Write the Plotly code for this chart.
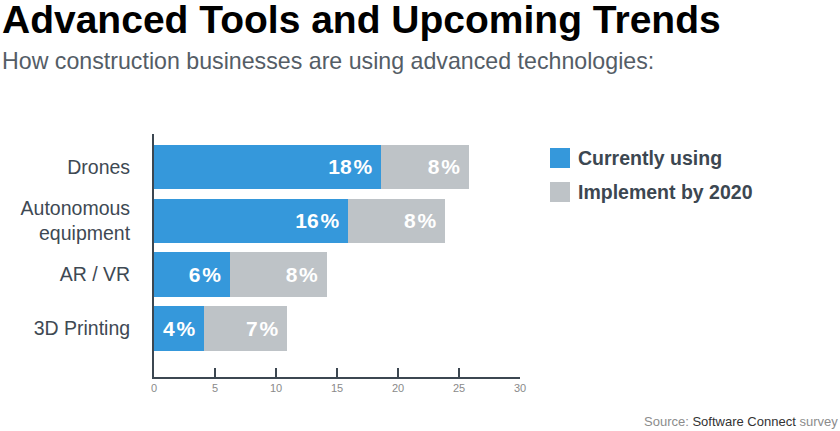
import plotly.graph_objects as go

categories = ["Drones", "Autonomous<br>equipment", "AR / VR", "3D Printing"]
currently_using = [18.6, 15.9, 6.2, 4.1]
implement_2020 = [7.2, 7.95, 7.95, 6.8]
current_labels = ["18%", "16%", "6%", "4%"]
implement_labels = ["8%", "8%", "8%", "7%"]
x_ticks = [0, 5, 10, 15, 20, 25, 30]
series_names = ["Currently using", "Implement by 2020"]

BLUE = "#3598db"
GRAY = "#bec3c7"
DARK = "#3c4751"
FONT = "Liberation Sans, Arial, Helvetica, sans-serif"

def fmt(lbl):
    # hair space between number and %, trailing nbsp for inner padding
    return lbl.replace("%", "\u200a%") + "\u00a0"

fig = go.Figure()
fig.add_trace(go.Bar(
    y=categories, x=currently_using, orientation="h", name=series_names[0],
    marker=dict(color=BLUE, line=dict(width=0)),
    text=[fmt(t) for t in current_labels], textposition="inside",
    insidetextanchor="end", textangle=0,
    textfont=dict(family=FONT, size=21, color="white", weight="bold"),
    hoverinfo="skip",
))
fig.add_trace(go.Bar(
    y=categories, x=implement_2020, orientation="h", name=series_names[1],
    marker=dict(color=GRAY, line=dict(width=0)),
    text=[fmt(t) for t in implement_labels], textposition="inside",
    insidetextanchor="end", textangle=0,
    textfont=dict(family=FONT, size=21, color="white", weight="bold"),
    hoverinfo="skip",
))

L, R, T, B = 154, 320, 134, 54
W, H = 840, 431
pw, ph = W - L - R, H - T - B

def px(x):
    return (x - L) / pw

def py(y):
    return (T + ph - y) / ph

def ann(**kw):
    base = dict(xref="paper", yref="paper", showarrow=False)
    base.update(kw)
    return base

annotations = [
    ann(text="<b>Advanced Tools and Upcoming Trends</b>", x=px(0), y=py(20),
        xanchor="left", yanchor="middle",
        font=dict(family=FONT, size=39, color="#000000")),
    ann(text="How construction businesses are using advanced technologies:",
        x=px(0), y=py(61), xanchor="left", yanchor="middle",
        font=dict(family=FONT, size=23.2, color="#545d66")),
    ann(text="<span style='color:#8c8c8c'>Source:</span> "
             "<span style='color:#333333'>Software Connect</span> "
             "<span style='color:#8c8c8c'>survey</span>",
        x=px(840), y=py(421), xanchor="right", yanchor="middle",
        font=dict(family=FONT, size=13, color="#8c8c8c")),
]
shapes = []
legend_rows = [(158, BLUE, series_names[0]), (192, GRAY, series_names[1])]
for cy, col, name in legend_rows:
    shapes.append(dict(type="rect", xref="paper", yref="paper",
                       x0=px(550), x1=px(570), y0=py(cy - 10), y1=py(cy + 10),
                       fillcolor=col, line=dict(width=0)))
    annotations.append(ann(text="<b>" + name + "</b>", x=px(576), y=py(cy),
                           xanchor="left", yanchor="middle",
                           font=dict(family=FONT, size=19.5, color=DARK)))

fig.update_layout(
    width=W, height=H,
    margin=dict(l=L, r=R, t=T, b=B, pad=0),
    paper_bgcolor="white", plot_bgcolor="white",
    barmode="stack", bargap=0.175,
    showlegend=False,
    font=dict(family=FONT),
    annotations=annotations, shapes=shapes,
    xaxis=dict(range=[0, 30], tickvals=x_ticks, ticktext=[str(v) for v in x_ticks],
               showgrid=False, zeroline=False, showline=True, linecolor=DARK,
               linewidth=2, ticks="inside", ticklen=9, tickwidth=2, tickcolor=DARK,
               tickfont=dict(family=FONT, size=11, color="#8a8a8a"), fixedrange=True),
    yaxis=dict(categoryorder="array", categoryarray=categories,
               range=[3.9, -0.61], showgrid=False, zeroline=False,
               showline=True, linecolor=DARK, linewidth=2, ticks="",
               ticklabelstandoff=18,
               tickfont=dict(family=FONT, size=19.5, color="#3e4953"), fixedrange=True),
)

fig.write_html("out.html", config={"displayModeBar": False},
               post_script="document.body.style.margin='0';")
